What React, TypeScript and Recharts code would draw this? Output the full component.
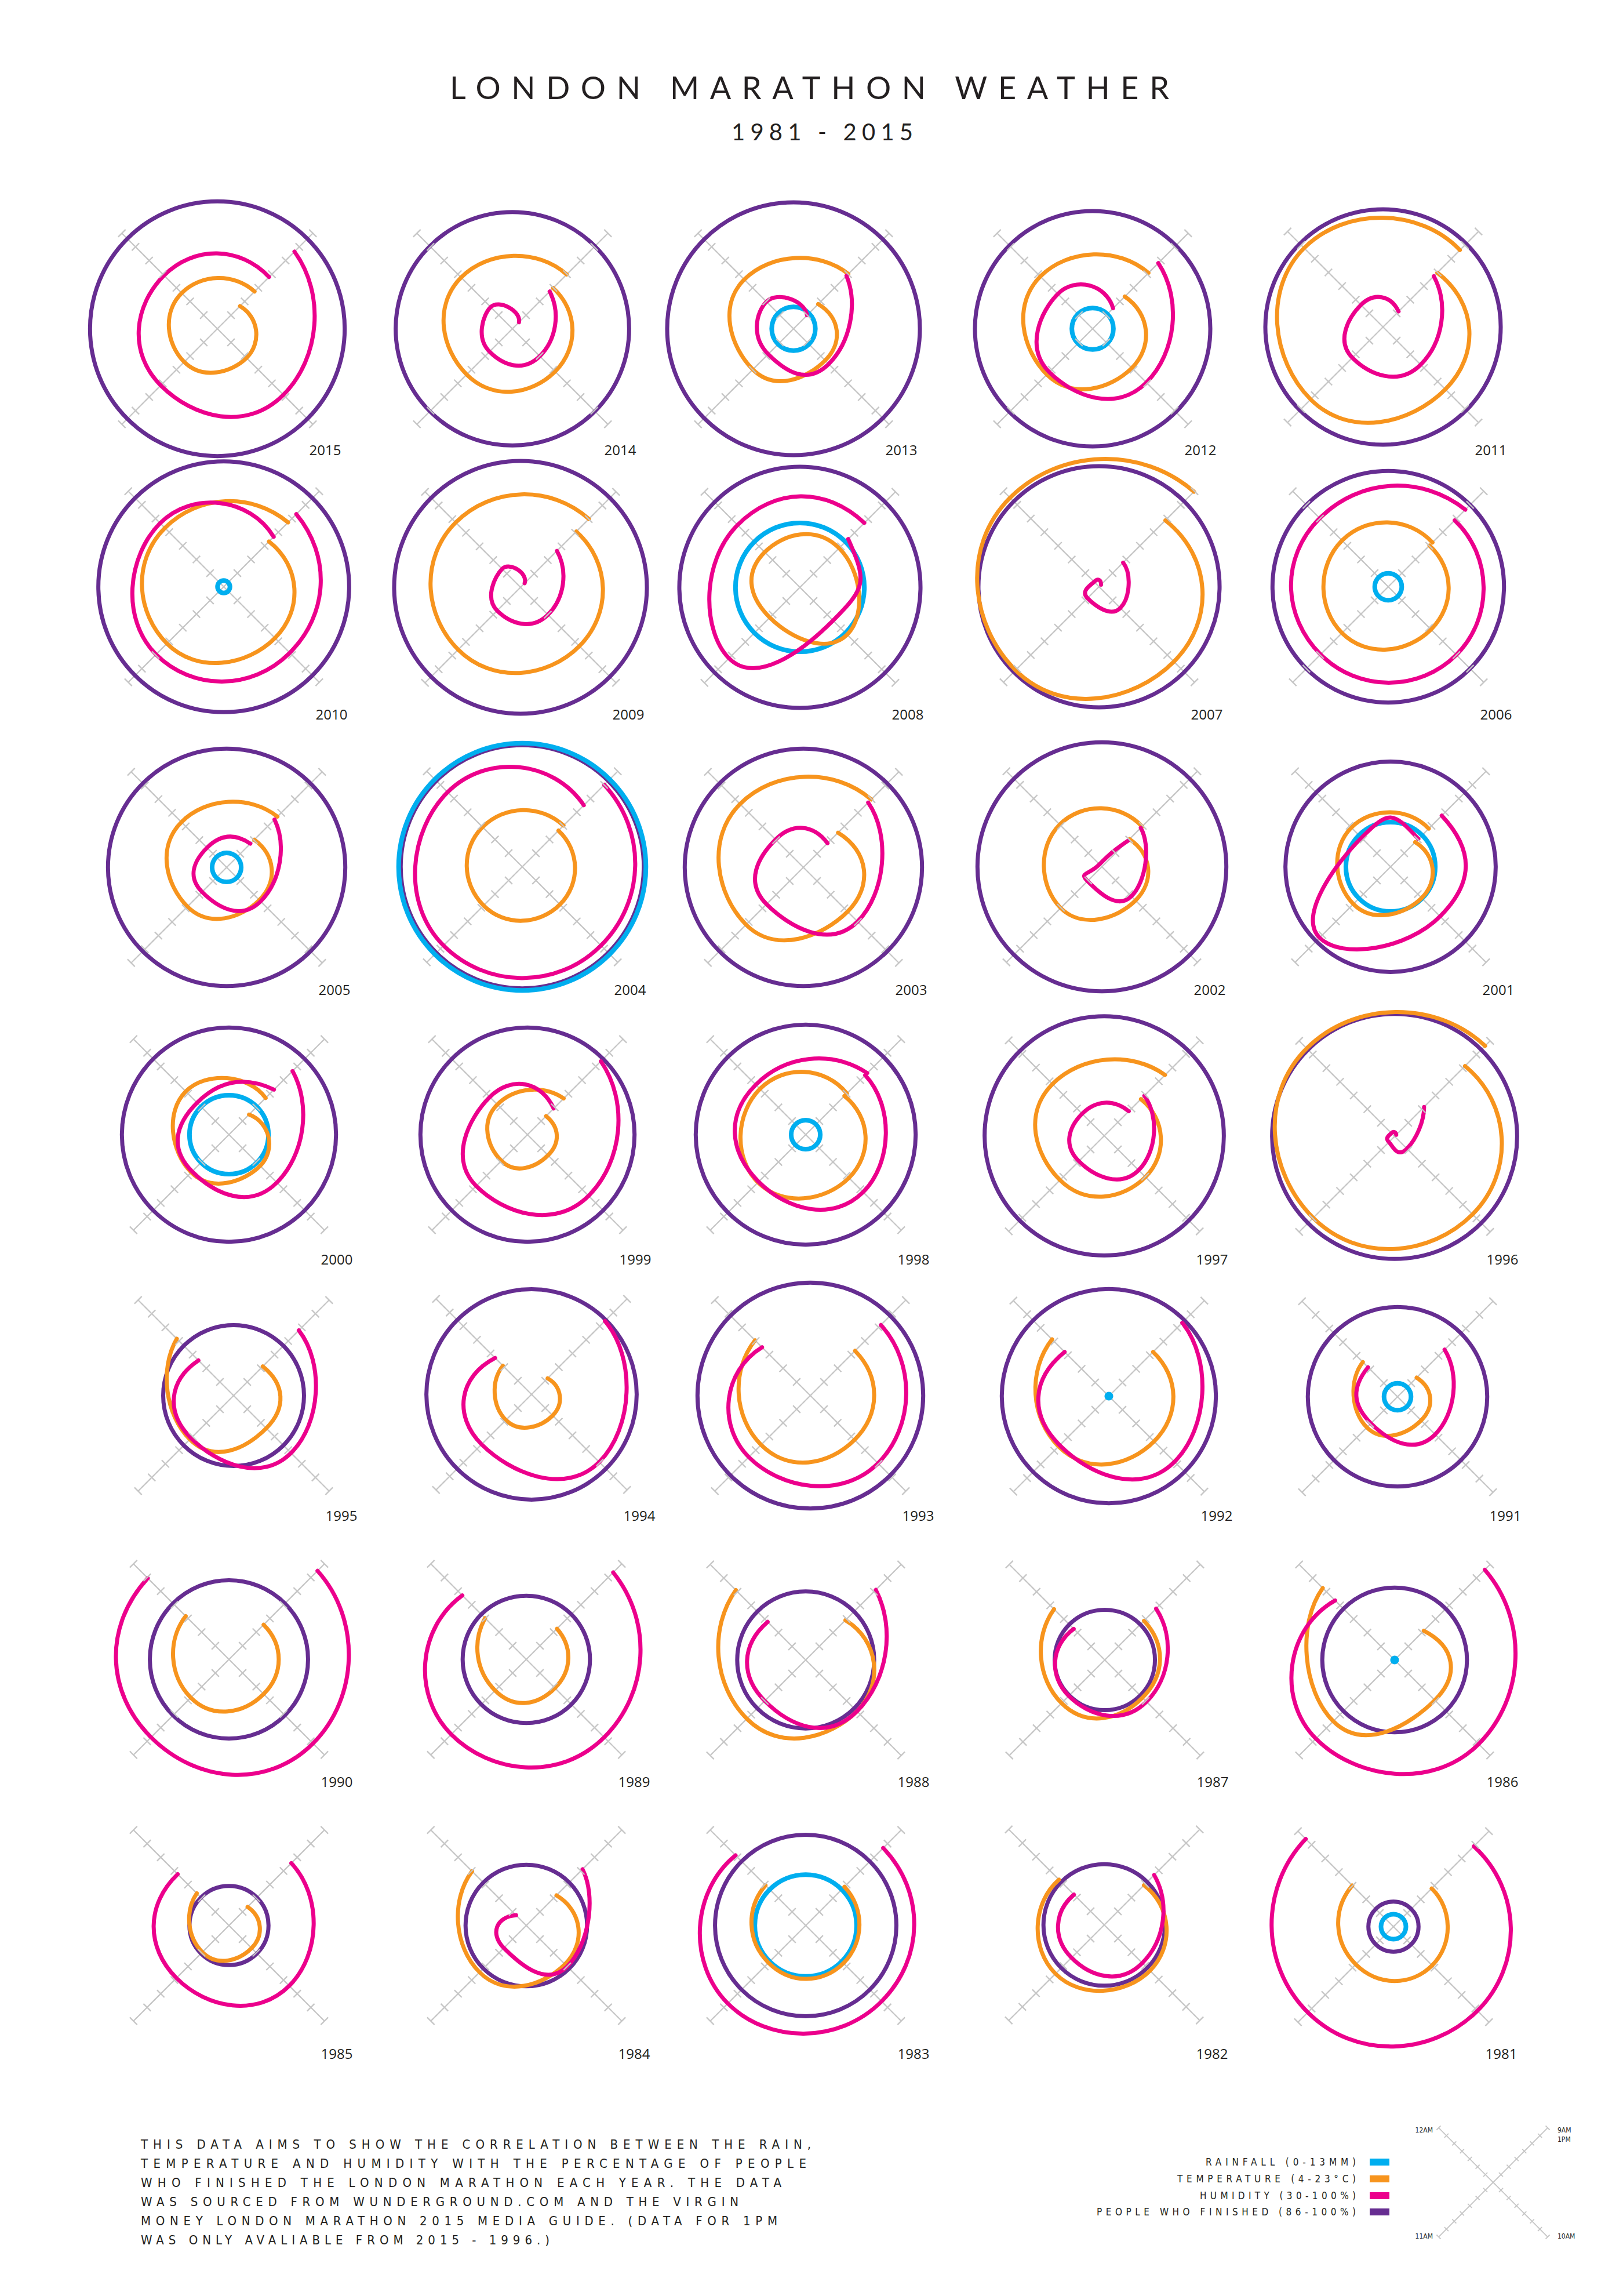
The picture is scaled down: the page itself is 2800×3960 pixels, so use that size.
import React from 'react';
import { LineChart, Line, XAxis, YAxis } from 'recharts';

// ---------------- DATA ----------------
const YEARS = [
  2015, 2014, 2013, 2012, 2011,
  2010, 2009, 2008, 2007, 2006,
  2005, 2004, 2003, 2002, 2001,
  2000, 1999, 1998, 1997, 1996,
  1995, 1994, 1993, 1992, 1991,
  1990, 1989, 1988, 1987, 1986,
  1985, 1984, 1983, 1982, 1981,
];

const TIME_LABELS = ['9AM', '10AM', '11AM', '12AM', '1PM'];

// Temperature (°C) at 9AM, 10AM, 11AM, 12, 1PM (1PM only from 1996)
const TEMPERATURE: number[][] = [
  [8.5, 9.8, 10.6, 11.1, 11.4],
  [12.1, 12.5, 13.1, 14.2, 14.8],
  [8.9, 10.3, 12.1, 13.8, 14.9],
  [10.4, 11.8, 13.1, 14.4, 15.1],
  [14.8, 16.4, 18.4, 19.7, 19.3],
  [13.0, 14.2, 15.3, 15.7, 16.8],
  [15.1, 15.7, 16.4, 16.9, 17.6],
  [11.8, 13.4, 10.0, 11.0, 11.8],
  [17.2, 18.9, 20.6, 21.7, 22.9],
  [12.2, 12.5, 13.2, 13.2, 12.8],
  [9.5, 10.5, 11.8, 13.0, 14.1],
  [11.2, 11.5, 11.7, 11.9, 12.2],
  [10.9, 12.8, 15.4, 16.6, 17.5],
  [9.5, 10.7, 12.2, 12.4, 12.0],
  [8.9, 10.2, 11.4, 11.8, 11.6],
  [8.0, 10.2, 11.5, 12.6, 11.3],
  [7.7, 8.1, 9.2, 10.0, 11.2],
  [11.7, 12.6, 13.5, 13.1, 12.2],
  [11.3, 12.2, 12.8, 14.3, 16.1],
  [18.0, 19.5, 20.2, 21.5, 22.0],
  [9.8, 10.5, 12.7, 15.3],
  [7.2, 8.2, 9.1, 9.7],
  [12.9, 12.8, 13.8, 15.0],
  [12.8, 13.0, 14.0, 15.3],
  [7.8, 8.7, 10.1, 10.9],
  [10.9, 10.9, 11.6, 12.6],
  [10.1, 9.7, 10.2, 12.2],
  [11.9, 14.2, 15.7, 17.9],
  [11.8, 11.5, 12.6, 14.1],
  [9.8, 12.0, 16.2, 18.3],
  [7.7, 8.5, 9.3, 10.4],
  [10.0, 11.7, 13.3, 14.8],
  [11.7, 11.5, 11.4, 12.0],
  [11.9, 13.1, 13.7, 13.0],
  [11.6, 11.7, 11.5, 12.2],
];

// Humidity (%) at the same hours
const HUMIDITY: number[][] = [
  [86.5, 78.4, 71.5, 69.1, 67.9],
  [57.3, 50.1, 46.8, 45.9, 34.8],
  [68.8, 55.8, 48.6, 49.8, 39.9],
  [78.1, 69.4, 61.8, 55.5, 45.0],
  [67.2, 57.6, 52.5, 46.2, 41.4],
  [83.2, 78.4, 79.6, 76.6, 66.6],
  [56.7, 50.1, 47.1, 43.5, 33.0],
  [65.4, 54.3, 82.0, 75.7, 77.2],
  [47.7, 45.6, 38.4, 33.6, 31.5],
  [78.7, 79.9, 79.6, 80.2, 86.5],
  [65.1, 54.9, 48.0, 44.4, 47.4],
  [90.1, 87.7, 87.7, 84.7, 75.1],
  [77.5, 69.7, 57.0, 50.4, 47.7],
  [58.5, 51.6, 40.5, 31.8, 49.2],
  [67.5, 66.3, 82.0, 51.3, 50.4],
  [76.6, 65.1, 57.0, 53.4, 63.0],
  [83.8, 74.8, 67.6, 57.6, 49.2],
  [73.6, 72.1, 64.5, 66.6, 75.1],
  [59.4, 55.2, 48.6, 46.2, 48.0],
  [51.6, 39.0, 34.2, 32.4, 31.2],
  [77.8, 72.1, 61.2, 55.8],
  [83.8, 79.6, 66.6, 56.7],
  [81.7, 79.6, 75.1, 65.4],
  [83.8, 78.1, 66.0, 62.4],
  [64.5, 57.6, 49.5, 51.6],
  [94.9, 91.6, 87.1, 89.5],
  [93.7, 87.1, 85.0, 76.9],
  [81.4, 67.6, 60.0, 57.9],
  [67.6, 60.6, 56.4, 52.8],
  [96.1, 91.6, 87.7, 73.6],
  [75.7, 74.2, 68.5, 67.6],
  [71.2, 60.0, 46.5, 37.5],
  [86.8, 85.6, 87.1, 81.4],
  [66.6, 57.9, 54.0, 52.2],
  [88.9, 91.6, 92.8, 94.3],
];

// People who finished (%)
const FINISHED = [
  99.2, 98.1, 99.1, 98.2, 98.2,
  99.0, 99.1, 98.5, 98.5, 98.0,
  98.3, 98.6, 98.3, 98.9, 96.9,
  97.1, 97.1, 97.4, 98.4, 98.7,
  93.3, 96.9, 97.7, 97.1, 95.3,
  94.2, 92.6, 93.1, 91.2, 93.5,
  90.1, 92.3, 95.4, 92.3, 88.6,
];

// Rainfall (mm)
const RAINFALL = [
  0, 0, 2.1, 2.0, 0,
  0.6, 0, 6.2, 0, 1.3,
  1.4, 11.9, 0, 0, 4.3,
  3.8, 0, 1.4, 0, 0,
  0, 0, 0, 0.2, 1.3,
  0, 0, 0, 0, 0.2,
  0, 0, 4.9, 0, 1.2,
];

const RAIN_RANGE = [0, 13];
const TEMP_RANGE = [4, 23];
const HUMIDITY_RANGE = [30, 100];
const FINISHED_RANGE = [86, 100];

const AXIS_STEPS = [-7, -6, -5, -4, -3, -2, -1, 0, 1, 2, 3, 4, 5, 6, 7];
const AXIS_MAX = 7;

const TITLE = 'LONDON MARATHON WEATHER';
const SUBTITLE = '1981 - 2015';
const DESCRIPTION = [
  'THIS DATA AIMS TO SHOW THE CORRELATION BETWEEN THE RAIN,',
  'TEMPERATURE AND HUMIDITY WITH THE PERCENTAGE OF PEOPLE',
  'WHO FINISHED THE LONDON MARATHON EACH YEAR. THE DATA',
  'WAS SOURCED FROM WUNDERGROUND.COM AND THE VIRGIN',
  'MONEY LONDON MARATHON 2015 MEDIA GUIDE. (DATA FOR 1PM',
  'WAS ONLY AVALIABLE FROM 2015 - 1996.)',
];

// ---------------- LAYOUT ----------------
const PANEL_CENTERS: [number, number][] = [
  [375, 567], [884, 567], [1369, 567], [1885, 567], [2386, 564],
  [386, 1012], [898, 1013], [1380, 1013], [1896, 1012], [2395, 1012],
  [391, 1496], [901, 1495], [1386, 1496], [1901, 1495], [2399, 1495],
  [395, 1957], [910, 1957], [1390, 1957], [1905, 1959], [2406, 1960],
  [403, 2407], [917, 2405], [1398, 2407], [1913, 2408], [2411, 2409],
  [395, 2862], [908, 2862], [1390, 2863], [1906, 2863], [2406, 2863],
  [395, 3321], [908, 3321], [1390, 3321], [1905, 3320], [2404, 3323],
];
const LABEL_BASELINES = [785, 1241, 1716, 2181, 2623, 3082, 3551];
const LABEL_DX = 186;

const C_RAIN = '#00aeef';
const C_TEMP = '#f7941d';
const C_HUM = '#ec008c';
const C_FIN = '#662d91';
const C_AXIS = '#c6c6c6';
const C_TEXT = '#231f20';

const PANEL_SIZE = 500;
const PANEL_UNIT = 233; // px for a full-scale value (arm length)

// ---------------- HELPERS ----------------
const ANGLES = TIME_LABELS.map((_, i) => Math.PI / 4 - (i * Math.PI) / 2);
const norm = (v: number, range: number[]) => (v - range[0]) / (range[1] - range[0]);
const spiral = (values: number[], range: number[]) =>
  values.map((v, i) => {
    const r = norm(v, range);
    return { x: r * Math.cos(ANGLES[i]), y: r * Math.sin(ANGLES[i]) };
  });
const ring = (value: number, range: number[]) => {
  const r = norm(value, range);
  return ANGLES.map((a) => ({ x: r * Math.cos(a), y: r * Math.sin(a) }));
};

// smooth curve: cubic Béziers with central-difference tangents (circle-like arcs)
const KAPPA = 0.2761;
const smoothCurve = (context: any) => {
  let pts: number[][] = [];
  return {
    areaStart() {},
    areaEnd() {},
    lineStart() {
      pts = [];
    },
    point(x: number, y: number) {
      pts.push([+x, +y]);
    },
    lineEnd() {
      const n = pts.length;
      if (!n) return;
      context.moveTo(pts[0][0], pts[0][1]);
      if (n === 1) return;
      if (n === 2) {
        context.lineTo(pts[1][0], pts[1][1]);
        return;
      }
      const closed = Math.hypot(pts[0][0] - pts[n - 1][0], pts[0][1] - pts[n - 1][1]) < 0.01;
      const tan: number[][] = [];
      for (let i = 1; i < n - 1; i++) {
        tan[i] = [pts[i + 1][0] - pts[i - 1][0], pts[i + 1][1] - pts[i - 1][1]];
      }
      const reflect = (t: number[], a: number[], b: number[]) => {
        const dx = b[0] - a[0];
        const dy = b[1] - a[1];
        const len = Math.hypot(dx, dy) || 1;
        const ux = dx / len;
        const uy = dy / len;
        const dot = t[0] * ux + t[1] * uy;
        return [2 * dot * ux - t[0], 2 * dot * uy - t[1]];
      };
      if (closed) {
        const t = [pts[1][0] - pts[n - 2][0], pts[1][1] - pts[n - 2][1]];
        tan[0] = t;
        tan[n - 1] = t;
      } else {
        tan[0] = reflect(tan[1], pts[0], pts[1]);
        tan[n - 1] = reflect(tan[n - 2], pts[n - 2], pts[n - 1]);
      }
      for (let i = 0; i < n - 1; i++) {
        const p = pts[i];
        const q = pts[i + 1];
        context.bezierCurveTo(
          p[0] + KAPPA * tan[i][0],
          p[1] + KAPPA * tan[i][1],
          q[0] - KAPPA * tan[i + 1][0],
          q[1] - KAPPA * tan[i + 1][1],
          q[0],
          q[1]
        );
      }
    },
  };
};

const makeTick = (dir: number, half: number, width: number) => (props: any) => {
  const { cx, cy, payload, index } = props;
  if (!payload || payload.k === 0 || cx == null) return <g key={`tk${index}`} />;
  const d = half / Math.SQRT2;
  return (
    <line
      key={`tk${index}`}
      x1={cx - d}
      y1={cy - d * dir}
      x2={cx + d}
      y2={cy + d * dir}
      stroke={C_AXIS}
      strokeWidth={width}
    />
  );
};

const diagUp = AXIS_STEPS.map((k) => ({ k, x: (k / AXIS_MAX) * Math.SQRT1_2, y: (k / AXIS_MAX) * Math.SQRT1_2 }));
const diagDown = AXIS_STEPS.map((k) => ({ k, x: (k / AXIS_MAX) * Math.SQRT1_2, y: -(k / AXIS_MAX) * Math.SQRT1_2 }));

type Series = { key: string; data: { x: number; y: number }[]; color: string; width: number };

function RadialChart({
  size,
  unit,
  series,
  tickHalf,
  axisWidth,
}: {
  size: number;
  unit: number;
  series: Series[];
  tickHalf: number;
  axisWidth: number;
}) {
  const dom = size / 2 / unit;
  return (
    <LineChart width={size} height={size} margin={{ top: 0, right: 0, bottom: 0, left: 0 }}>
      <XAxis type="number" dataKey="x" domain={[-dom, dom]} allowDataOverflow hide />
      <YAxis type="number" dataKey="y" domain={[-dom, dom]} allowDataOverflow hide />
      <Line
        key="axis-up"
        data={diagUp}
        dataKey="y"
        type="linear"
        stroke={C_AXIS}
        strokeWidth={axisWidth}
        dot={makeTick(1, tickHalf, axisWidth)}
        activeDot={false}
        isAnimationActive={false}
        legendType="none"
      />
      <Line
        key="axis-down"
        data={diagDown}
        dataKey="y"
        type="linear"
        stroke={C_AXIS}
        strokeWidth={axisWidth}
        dot={makeTick(-1, tickHalf, axisWidth)}
        activeDot={false}
        isAnimationActive={false}
        legendType="none"
      />
      {series.map((s) => (
        <Line
          key={s.key}
          data={s.data}
          dataKey="y"
          type={smoothCurve as any}
          stroke={s.color}
          strokeWidth={s.width}
          strokeLinecap="round"
          fill="none"
          dot={false}
          activeDot={false}
          isAnimationActive={false}
          legendType="none"
        />
      ))}
    </LineChart>
  );
}

function YearPanel({ index }: { index: number }) {
  const [cx, cy] = PANEL_CENTERS[index];
  const series: Series[] = [];
  series.push({ key: 'fin', data: ring(FINISHED[index], FINISHED_RANGE), color: C_FIN, width: 7 });
  if (RAINFALL[index] > 0) {
    series.push({ key: 'rain', data: ring(RAINFALL[index], RAIN_RANGE), color: C_RAIN, width: 8 });
  }
  series.push({ key: 'temp', data: spiral(TEMPERATURE[index], TEMP_RANGE), color: C_TEMP, width: 7 });
  series.push({ key: 'hum', data: spiral(HUMIDITY[index], HUMIDITY_RANGE), color: C_HUM, width: 7 });
  return (
    <div
      style={{
        position: 'absolute',
        left: cx - PANEL_SIZE / 2,
        top: cy - PANEL_SIZE / 2,
        width: PANEL_SIZE,
        height: PANEL_SIZE,
      }}
    >
      <RadialChart size={PANEL_SIZE} unit={PANEL_UNIT} series={series} tickHalf={9} axisWidth={2.3} />
    </div>
  );
}

const LEGEND_ITEMS = [
  { label: `RAINFALL (${RAIN_RANGE[0]}-${RAIN_RANGE[1]}MM)`, color: C_RAIN, x: 2080, w: 259, y: 3735 },
  { label: `TEMPERATURE (${TEMP_RANGE[0]}-${TEMP_RANGE[1]}°C)`, color: C_TEMP, x: 2031, w: 308, y: 3764 },
  { label: `HUMIDITY (${HUMIDITY_RANGE[0]}-${HUMIDITY_RANGE[1]}%)`, color: C_HUM, x: 2070, w: 269, y: 3793 },
  { label: `PEOPLE WHO FINISHED (${FINISHED_RANGE[0]}-${FINISHED_RANGE[1]}%)`, color: C_FIN, x: 1892, w: 447, y: 3821 },
];
const DESC_WIDTHS = [1156, 1148, 1105, 1031, 1098, 705];

export default function App() {
  const narrow = "'Liberation Sans Narrow', 'DejaVu Sans Condensed', Lato, sans-serif";
  return (
    <div
      style={{
        position: 'absolute',
        left: 0,
        top: 0,
        width: 2800,
        height: 3960,
        background: '#ffffff',
        overflow: 'hidden',
      }}
    >
      {YEARS.map((_, i) => (
        <YearPanel key={YEARS[i]} index={i} />
      ))}

      <div style={{ position: 'absolute', left: 2576 - 100, top: 3764 - 100, width: 200, height: 200 }}>
        <RadialChart size={200} unit={133} series={[]} tickHalf={5} axisWidth={1.8} />
      </div>

      <svg
        width={2800}
        height={3960}
        style={{ position: 'absolute', left: 0, top: 0, pointerEvents: 'none' }}
      >
        <text
          x={776}
          y={171}
          fontSize={54}
          fontFamily="Lato, 'Open Sans', sans-serif"
          fill={C_TEXT}
          textLength={1241}
          lengthAdjust="spacing"
        >
          {TITLE}
        </text>
        <text
          x={1262}
          y={242}
          fontSize={40}
          fontFamily="Lato, 'Open Sans', sans-serif"
          fill={C_TEXT}
          textLength={313}
          lengthAdjust="spacing"
        >
          {SUBTITLE}
        </text>

        {YEARS.map((y, i) => (
          <text
            key={`yl${y}`}
            x={PANEL_CENTERS[i][0] + LABEL_DX}
            y={LABEL_BASELINES[Math.floor(i / 5)]}
            fontSize={24}
            fontFamily="'Open Sans', sans-serif"
            fill={C_TEXT}
            textAnchor="middle"
          >
            {y}
          </text>
        ))}

        {DESCRIPTION.map((line, i) => (
          <text
            key={`d${i}`}
            x={243}
            y={3706 + i * 33}
            fontSize={22}
            fontFamily={narrow}
            fill={C_TEXT}
            textLength={DESC_WIDTHS[i]}
            lengthAdjust="spacing"
          >
            {line}
          </text>
        ))}

        {LEGEND_ITEMS.map((it) => (
          <g key={it.label}>
            <text
              x={it.x}
              y={it.y}
              fontSize={17}
              fontFamily={narrow}
              fill={C_TEXT}
              textLength={it.w}
              lengthAdjust="spacing"
            >
              {it.label}
            </text>
            <rect x={2363} y={it.y - 12} width={34} height={12} fill={it.color} />
          </g>
        ))}

        <g fontSize={12} fontFamily={narrow} fill={C_TEXT}>
          <text x={2472} y={3678} textAnchor="end">{TIME_LABELS[3]}</text>
          <text x={2687} y={3678}>{TIME_LABELS[0]}</text>
          <text x={2687} y={3694}>{TIME_LABELS[4]}</text>
          <text x={2472} y={3861} textAnchor="end">{TIME_LABELS[2]}</text>
          <text x={2687} y={3861}>{TIME_LABELS[1]}</text>
        </g>
      </svg>
    </div>
  );
}
